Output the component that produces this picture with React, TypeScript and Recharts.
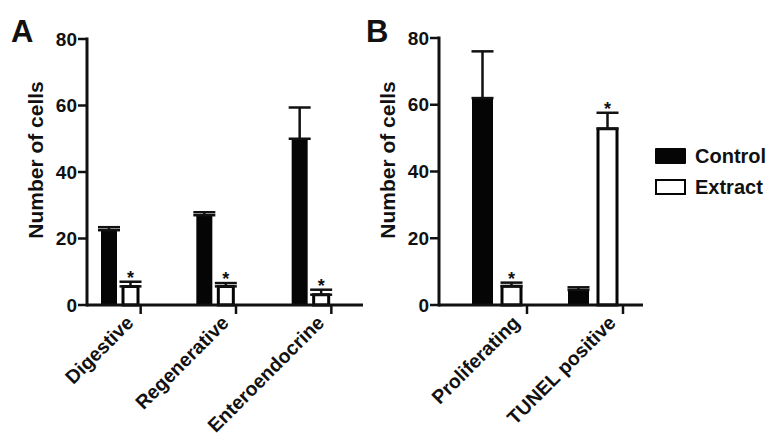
import { Bar, BarChart, ErrorBar, LabelList, XAxis, YAxis } from "recharts";

const catsA = ["Digestive", "Regenerative", "Enteroendocrine"];
const controlA = [22.5, 27, 50];
const controlErrA = [0.9, 0.9, 9.4];
const extractA = [5.6, 5.6, 3.1];
const extractErrA = [1.4, 1, 1.5];

const catsB = ["Proliferating", "TUNEL positive"];
const controlB = [62, 4.5];
const controlErrB = [14, 0.8];
const extractB = [5.6, 52.8];
const extractErrB = [1.1, 4.8];

const yTicks = [0, 20, 40, 60, 80];
const seriesNames = ["Control", "Extract"];

const font = "'Liberation Sans', Arial, sans-serif";
const ink = "#111";

const buildRows = (cats: string[], ctl: number[], ctlErr: number[], ext: number[], extErr: number[]) =>
  cats.map((name, i) => ({ name, ctl: ctl[i], ctlErr: [0, ctlErr[i]], ext: ext[i], extErr: [0, extErr[i]] }));

const dataA = buildRows(catsA, controlA, controlErrA, extractA, extractErrA);
const dataB = buildRows(catsB, controlB, controlErrB, extractB, extractErrB);

// GraphPad-style tick: small mark to the right of each group, label rotated -45
const makeXTick = (offset: number) => (props: any) => {
  const { x, y, payload } = props;
  const tx = x + offset;
  const lx = tx - 6;
  const ly = y + 19;
  return (
    <g>
      <line x1={tx} y1={y} x2={tx} y2={y + 9} stroke={ink} strokeWidth={2.5} />
      <text
        x={lx}
        y={ly}
        transform={`rotate(-45, ${lx}, ${ly})`}
        textAnchor="end"
        fontFamily={font}
        fontWeight={700}
        fontSize={19.5}
        fill={ink}
      >
        {payload.value}
      </text>
    </g>
  );
};

// asterisk above the extract error bar
const makeStar = (errs: number[]) => (props: any) => {
  const vb = props.viewBox ?? props;
  const { x, y, width, height } = vb;
  const { value, index } = props;
  if (!value || !height) return null;
  const perUnit = height / value;
  const cy = y - errs[index] * perUnit;
  return (
    <text x={x + width / 2} y={cy + 2} textAnchor="middle" fontFamily={font} fontWeight={700} fontSize={18} fill={ink}>
      *
    </text>
  );
};

const yLabel = (props: any) => {
  const { x, width } = props.viewBox;
  const cx = x + width - 44;
  const cy = 160;
  return (
    <text
      x={cx}
      y={cy}
      transform={`rotate(-90, ${cx}, ${cy})`}
      textAnchor="middle"
      fontFamily={font}
      fontWeight={700}
      fontSize={21}
      fill={ink}
    >
      Number of cells
    </text>
  );
};

type PanelProps = {
  data: any[];
  extErr: number[];
  width: number;
  yWidth: number;
  padding: { left: number; right: number };
  tickOffset: number;
  ctlSize: number;
  extSize: number;
  gap: number;
  top: number;
};

const Panel = ({ data, extErr, width, yWidth, padding, tickOffset, ctlSize, extSize, gap, top }: PanelProps) => (
  <BarChart width={width} height={436} data={data} margin={{ top, right: 12, bottom: 0, left: 0 }} barGap={gap}>
    <XAxis
      dataKey="name"
      height={436 - 305}
      padding={padding}
      axisLine={{ stroke: ink, strokeWidth: 3 }}
      tickLine={false}
      tickSize={0}
      tickMargin={0}
      interval={0}
      tick={makeXTick(tickOffset)}
    />
    <YAxis
      width={yWidth}
      domain={[0, 80]}
      ticks={yTicks}
      interval={0}
      axisLine={{ stroke: ink, strokeWidth: 3, strokeLinecap: "square" }}
      tickLine={{ stroke: ink, strokeWidth: 2.5 }}
      tickSize={9}
      tickMargin={1}
      tick={{ fontFamily: font, fontWeight: 700, fontSize: 19, fill: ink }}
      label={yLabel}
    />
    <Bar dataKey="ctl" name={seriesNames[0]} fill="#050505" barSize={ctlSize} isAnimationActive={false}>
      <ErrorBar dataKey="ctlErr" width={11} stroke={ink} strokeWidth={2.5} />
    </Bar>
    <Bar dataKey="ext" name={seriesNames[1]} fill="#fff" stroke="#050505" strokeWidth={3} barSize={extSize} isAnimationActive={false}>
      <ErrorBar dataKey="extErr" width={11} stroke={ink} strokeWidth={2.5} />
      <LabelList dataKey="ext" content={makeStar(extErr)} />
    </Bar>
  </BarChart>
);

const panelLetter = { position: "absolute" as const, top: 15, fontFamily: font, fontWeight: 700, fontSize: 31, color: ink, lineHeight: "34px" };
const legendText = { fontFamily: font, fontWeight: 700, fontSize: 20, color: ink, marginLeft: 9 };

export default function App() {
  return (
    <div style={{ position: "absolute", left: 0, top: 0, width: 780, height: 436, background: "#fff", overflow: "hidden" }}>
      <div style={{ position: "absolute", left: 0, top: 0 }}>
        <Panel
          data={dataA}
          extErr={extractErrA}
          width={375}
          yWidth={87}
          padding={{ left: -15, right: 5 }}
          tickOffset={21}
          ctlSize={16}
          extSize={15}
          gap={6}
          top={39}
        />
      </div>
      <div style={{ position: "absolute", left: 345, top: 0 }}>
        <Panel
          data={dataB}
          extErr={extractErrB}
          width={310}
          yWidth={94}
          padding={{ left: 9, right: 3 }}
          tickOffset={31}
          ctlSize={21}
          extSize={19}
          gap={9}
          top={38}
        />
      </div>
      <div style={{ ...panelLetter, left: 11 }}>A</div>
      <div style={{ ...panelLetter, left: 366 }}>B</div>
      <div style={{ position: "absolute", left: 655, top: 145 }}>
        <div style={{ display: "flex", alignItems: "center", height: 22 }}>
          <div style={{ width: 31, height: 16, background: "#050505", borderRadius: 1 }} />
          <span style={legendText}>{seriesNames[0]}</span>
        </div>
        <div style={{ display: "flex", alignItems: "center", height: 22, marginTop: 9 }}>
          <div style={{ width: 27, height: 12, border: "2px solid #050505", background: "#fff" }} />
          <span style={legendText}>{seriesNames[1]}</span>
        </div>
      </div>
    </div>
  );
}
